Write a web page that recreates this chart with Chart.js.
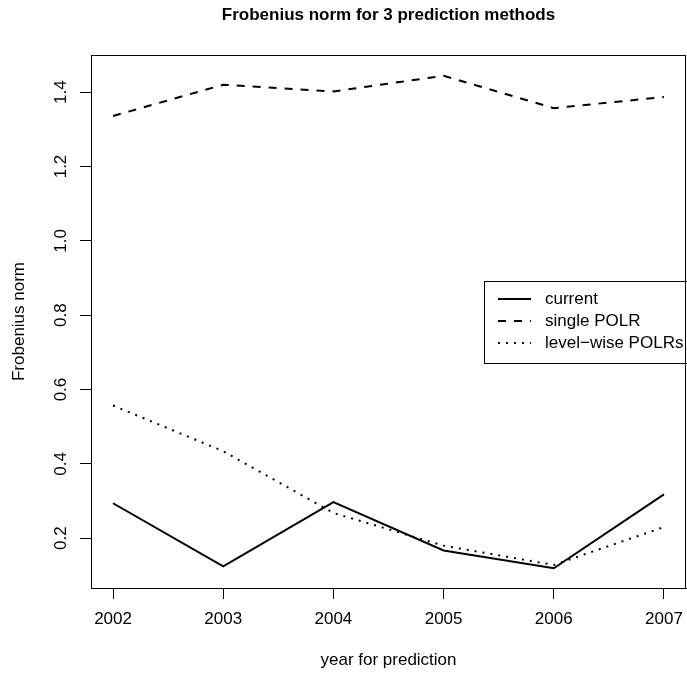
<!DOCTYPE html>
<html>
<head>
<meta charset="utf-8">
<script src="https://cdn.jsdelivr.net/npm/chart.js@4.4.1/dist/chart.umd.min.js"></script>
<style>
  body { margin: 0; background: #fff; }
  canvas { display: block; }
</style>
</head>
<body>
<canvas id="myChart" width="687" height="675"></canvas>
<script>
const years = [2002, 2003, 2004, 2005, 2006, 2007];
const current = [0.294, 0.124, 0.297, 0.167, 0.119, 0.318];
const singlePolr = [1.336, 1.420, 1.402, 1.444, 1.357, 1.387];
const levelWise = [0.557, 0.434, 0.268, 0.180, 0.128, 0.230];
const yTicks = [0.2, 0.4, 0.6, 0.8, 1.0, 1.2, 1.4];

const seriesNames = ['current', 'single POLR', 'level\u2212wise POLRs'];

Chart.defaults.font.family = '"Liberation Sans", Arial, Helvetica, sans-serif';
Chart.defaults.font.size = 17;
Chart.defaults.color = '#000';

const toPoints = (vals) => vals.map((v, i) => ({ x: years[i], y: v }));

// R style: box, main title, legend inside plot
const rStyle = {
  id: 'rStyle',
  afterDraw(chart) {
    const { ctx, chartArea: a } = chart;
    ctx.save();
    ctx.strokeStyle = '#000';
    ctx.lineWidth = 1;
    ctx.strokeRect(Math.round(a.left) + 0.5, Math.round(a.top) + 0.5,
      Math.round(a.right - a.left) - 1, Math.round(a.bottom - a.top));

    ctx.fillStyle = '#000';
    ctx.font = 'bold 17px "Liberation Sans", Arial, sans-serif';
    ctx.textAlign = 'center';
    ctx.textBaseline = 'alphabetic';
    ctx.fillText('Frobenius norm for 3 prediction methods', (a.left + a.right) / 2, 20);

    // legend
    const lx = 484, ly = 281, lh = 82;
    ctx.strokeRect(lx + 0.5, ly + 0.5, 300, lh);
    ctx.font = '17px "Liberation Sans", Arial, sans-serif';
    ctx.textAlign = 'left';
    ctx.textBaseline = 'middle';
    const rows = [299, 321, 343];
    chart.data.datasets.forEach((ds, i) => {
      ctx.beginPath();
      ctx.setLineDash(ds.borderDash || []);
      ctx.lineWidth = ds.borderWidth;
      ctx.moveTo(498, rows[i]);
      ctx.lineTo(531, rows[i]);
      ctx.stroke();
      ctx.setLineDash([]);
      ctx.fillText(ds.label, 545, rows[i]);
    });
    ctx.restore();
  }
};

const ctx = document.getElementById('myChart');

const chart = new Chart(ctx, {
  type: 'line',
  data: {
    datasets: [{
      label: seriesNames[0],
      data: toPoints(current),
      borderColor: '#000',
      borderWidth: 2,
      pointRadius: 0,
      tension: 0
    }, {
      label: seriesNames[1],
      data: toPoints(singlePolr),
      borderColor: '#000',
      borderWidth: 2,
      borderDash: [8, 8],
      pointRadius: 0,
      tension: 0
    }, {
      label: seriesNames[2],
      data: toPoints(levelWise),
      borderColor: '#000',
      borderWidth: 2,
      borderDash: [2, 6],
      pointRadius: 0,
      tension: 0
    }]
  },
  options: {
    responsive: false,
    animation: false,
    layout: { padding: { top: 55, right: 1, bottom: 0, left: 0 } },
    plugins: {
      legend: { display: false },
      title: { display: false },
      tooltip: { enabled: false }
    },
    scales: {
      x: {
        type: 'linear',
        min: 2001.8,
        max: 2007.2,
        afterBuildTicks: (axis) => { axis.ticks = years.map(v => ({ value: v })); },
        afterFit: (axis) => {
          axis.height = 87;
          axis.paddingLeft = 0;
          axis.paddingRight = 0;
        },
        grid: { drawOnChartArea: false, drawTicks: true, tickLength: 11, color: '#000' },
        border: { color: '#000' },
        ticks: {
          padding: 10,
          autoSkip: false,
          maxRotation: 0,
          callback: (v) => String(v)
        },
        title: { display: true, text: 'year for prediction', padding: { top: 0, bottom: 4 } }
      },
      y: {
        min: 0.066,
        max: 1.5,
        afterBuildTicks: (axis) => { axis.ticks = yTicks.map(v => ({ value: v })); },
        afterFit: (axis) => {
          axis.width = 91;
          axis.paddingTop = 0;
          axis.paddingBottom = 0;
        },
        grid: { drawOnChartArea: false, drawTicks: true, tickLength: 11, color: '#000' },
        border: { color: '#000' },
        ticks: {
          padding: 7,
          minRotation: 90,
          maxRotation: 90,
          crossAlign: 'center',
          autoSkip: false,
          callback: (v) => v.toFixed(1)
        },
        title: { display: true, text: 'Frobenius norm', padding: { top: 9, bottom: 0 } }
      }
    }
  },
  plugins: [rStyle]
});
</script>
</body>
</html>
